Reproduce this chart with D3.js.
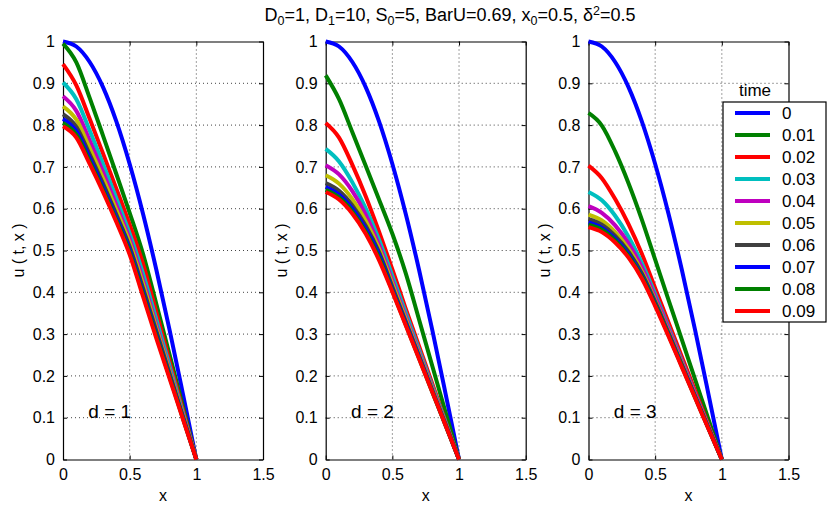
<!DOCTYPE html>
<html>
<head>
<meta charset="utf-8">
<script src="https://cdn.jsdelivr.net/npm/d3@7"></script>
<style>
  body { margin: 0; background: #fff; }
  text { font-family: "Liberation Sans", Arial, Helvetica, sans-serif; }
</style>
</head>
<body>
<div id="chart"></div>
<script>
const svgWidth = 827;
const svgHeight = 507;

// sample positions along x
const xs = [0, 0.1, 0.2, 0.3, 0.4, 0.5, 0.6, 0.7, 0.8, 0.9, 1];
const times = ["0", "0.01", "0.02", "0.03", "0.04", "0.05", "0.06", "0.07", "0.08", "0.09"];
const colors = ["#0000ff", "#008000", "#ff0000", "#00bfbf", "#bf00bf", "#bfbf00", "#404040", "#0000ff", "#008000", "#ff0000"];
const panelNames = ["d = 1", "d = 2", "d = 3"];
const xTicks = [0, 0.5, 1, 1.5];
const yTicks = [0, 0.1, 0.2, 0.3, 0.4, 0.5, 0.6, 0.7, 0.8, 0.9, 1];

// u(t, x), one row per time
const u_d1 = [
    [1, 0.988, 0.951, 0.891, 0.809, 0.707, 0.588, 0.454, 0.309, 0.156, 0],
    [0.995, 0.95, 0.865, 0.775, 0.683, 0.59, 0.492, 0.372, 0.25, 0.126, 0],
    [0.946, 0.895, 0.815, 0.732, 0.648, 0.562, 0.468, 0.352, 0.234, 0.117, 0],
    [0.902, 0.862, 0.787, 0.707, 0.625, 0.54, 0.445, 0.335, 0.223, 0.111, 0],
    [0.869, 0.834, 0.763, 0.688, 0.609, 0.527, 0.43, 0.322, 0.214, 0.107, 0],
    [0.845, 0.813, 0.745, 0.673, 0.597, 0.518, 0.42, 0.314, 0.21, 0.105, 0],
    [0.826, 0.796, 0.73, 0.66, 0.586, 0.509, 0.41, 0.307, 0.205, 0.102, 0],
    [0.815, 0.786, 0.721, 0.652, 0.579, 0.502, 0.402, 0.3, 0.2, 0.1, 0],
    [0.805, 0.777, 0.713, 0.645, 0.573, 0.496, 0.396, 0.296, 0.197, 0.098, 0],
    [0.797, 0.77, 0.707, 0.64, 0.568, 0.49, 0.39, 0.29, 0.193, 0.096, 0]
];
const u_d2 = [
    [1, 0.988, 0.951, 0.891, 0.809, 0.707, 0.588, 0.454, 0.309, 0.156, 0],
    [0.919, 0.862, 0.783, 0.703, 0.622, 0.54, 0.446, 0.335, 0.223, 0.112, 0],
    [0.805, 0.77, 0.705, 0.63, 0.545, 0.455, 0.361, 0.271, 0.181, 0.09, 0],
    [0.743, 0.713, 0.663, 0.601, 0.526, 0.439, 0.351, 0.263, 0.175, 0.088, 0],
    [0.704, 0.682, 0.642, 0.586, 0.513, 0.428, 0.342, 0.256, 0.171, 0.085, 0],
    [0.68, 0.66, 0.623, 0.571, 0.504, 0.42, 0.336, 0.252, 0.168, 0.084, 0],
    [0.661, 0.643, 0.608, 0.559, 0.496, 0.413, 0.33, 0.248, 0.165, 0.083, 0],
    [0.652, 0.634, 0.6, 0.552, 0.49, 0.408, 0.327, 0.245, 0.163, 0.082, 0],
    [0.645, 0.627, 0.593, 0.545, 0.483, 0.404, 0.323, 0.242, 0.161, 0.081, 0],
    [0.64, 0.622, 0.588, 0.54, 0.477, 0.401, 0.321, 0.241, 0.161, 0.081, 0]
];
const u_d3 = [
    [1, 0.988, 0.951, 0.891, 0.809, 0.707, 0.588, 0.454, 0.309, 0.156, 0],
    [0.829, 0.799, 0.737, 0.661, 0.574, 0.478, 0.382, 0.287, 0.191, 0.096, 0],
    [0.703, 0.673, 0.623, 0.563, 0.492, 0.41, 0.328, 0.246, 0.164, 0.082, 0],
    [0.64, 0.62, 0.583, 0.533, 0.47, 0.396, 0.317, 0.237, 0.157, 0.078, 0],
    [0.606, 0.59, 0.56, 0.517, 0.46, 0.389, 0.313, 0.235, 0.157, 0.079, 0],
    [0.586, 0.572, 0.544, 0.504, 0.45, 0.381, 0.306, 0.23, 0.153, 0.077, 0],
    [0.575, 0.562, 0.535, 0.497, 0.445, 0.377, 0.303, 0.227, 0.151, 0.075, 0],
    [0.567, 0.554, 0.528, 0.491, 0.44, 0.373, 0.3, 0.225, 0.15, 0.075, 0],
    [0.562, 0.55, 0.524, 0.487, 0.437, 0.371, 0.298, 0.223, 0.148, 0.074, 0],
    [0.556, 0.544, 0.519, 0.483, 0.433, 0.367, 0.295, 0.221, 0.147, 0.073, 0]
];
const panels = [u_d1, u_d2, u_d3];

const panelLeft = [63, 325.7, 588.5];
const panelW = 200;
const plotTop = 41.5, plotBottom = 459.5;

const svg = d3.select('#chart')
    .append("svg")
    .attr("width", svgWidth)
    .attr("height", svgHeight);

const y = d3.scaleLinear().domain([0, 1]).range([plotBottom, plotTop]);

panels.forEach((rows, p) => {
    const x = d3.scaleLinear().domain([0, 1.5]).range([panelLeft[p], panelLeft[p] + panelW]);
    const g = svg.append("g");

    // dotted grid
    g.selectAll(".gx")
        .data(xTicks.slice(1, -1))
        .join("line")
        .attr("x1", d => x(d)).attr("x2", d => x(d))
        .attr("y1", plotTop).attr("y2", plotBottom)
        .attr("stroke", "#444").attr("stroke-dasharray", "1,3");
    g.selectAll(".gy")
        .data(yTicks.slice(1, -1))
        .join("line")
        .attr("y1", d => y(d)).attr("y2", d => y(d))
        .attr("x1", x(0)).attr("x2", x(1.5))
        .attr("stroke", "#444").attr("stroke-dasharray", "1,3");

    // axes with inward ticks
    g.append("g")
        .attr("transform", `translate(0,${plotBottom})`)
        .call(d3.axisBottom(x).tickValues(xTicks).tickSizeInner(-4).tickSizeOuter(0).tickPadding(9).tickFormat(d3.format("")));
    g.append("g")
        .attr("transform", `translate(${x(0)},0)`)
        .call(d3.axisLeft(y).tickValues(yTicks).tickSizeInner(-4).tickSizeOuter(0).tickPadding(8).tickFormat(d3.format("")));
    g.append("g")
        .attr("transform", `translate(0,${plotTop})`)
        .call(d3.axisTop(x).tickValues(xTicks).tickSizeInner(-4).tickSizeOuter(0).tickFormat(""));
    g.append("g")
        .attr("transform", `translate(${x(1.5)},0)`)
        .call(d3.axisRight(y).tickValues(yTicks).tickSizeInner(-4).tickSizeOuter(0).tickFormat(""));
    g.selectAll(".domain").attr("stroke", "#000").attr("stroke-width", 1.2);
    g.selectAll(".tick text").attr("font-size", 16).attr("fill", "#000")
        .style("font-family", "'Liberation Sans', Arial, sans-serif");

    // curves
    const line = d3.line()
        .x((d, i) => x(xs[i]))
        .y(d => y(d))
        .curve(d3.curveMonotoneX);
    g.selectAll(".curve")
        .data(rows)
        .join("path")
        .attr("d", line)
        .attr("fill", "none")
        .attr("stroke", (d, i) => colors[i])
        .attr("stroke-width", 4)
        .attr("stroke-linejoin", "round");

    // labels
    g.append("text")
        .attr("x", x(0.75))
        .attr("y", 501)
        .attr("text-anchor", "middle")
        .attr("font-size", 16)
        .text("x");
    g.append("text")
        .attr("transform", `translate(${panelLeft[p] - 39},${(plotTop + plotBottom) / 2}) rotate(-90)`)
        .attr("text-anchor", "middle")
        .attr("font-size", 16)
        .text("u ( t, x )");
    g.append("text")
        .attr("x", x(0.19))
        .attr("y", 418)
        .attr("font-size", 19)
        .text(panelNames[p]);
});

// title
const title = svg.append("text")
    .attr("x", 450)
    .attr("y", 21)
    .attr("text-anchor", "middle")
    .attr("font-size", 18);
title.append("tspan").text("D");
title.append("tspan").attr("font-size", 12.5).attr("dy", 4).text("0");
title.append("tspan").attr("dy", -4).text("=1, D");
title.append("tspan").attr("font-size", 12.5).attr("dy", 4).text("1");
title.append("tspan").attr("dy", -4).text("=10, S");
title.append("tspan").attr("font-size", 12.5).attr("dy", 4).text("0");
title.append("tspan").attr("dy", -4).text("=5, BarU=0.69, x");
title.append("tspan").attr("font-size", 12.5).attr("dy", 4).text("0");
title.append("tspan").attr("dy", -4).text("=0.5, δ");
title.append("tspan").attr("font-size", 12.5).attr("dy", -6).text("2");
title.append("tspan").attr("dy", 6).text("=0.5");

// legend
const legend = svg.append("g");
legend.append("rect")
    .attr("x", 723).attr("y", 102)
    .attr("width", 103).attr("height", 220)
    .attr("fill", "#fff").attr("stroke", "#000").attr("stroke-width", 1.2);
legend.append("text")
    .attr("x", 755).attr("y", 96)
    .attr("text-anchor", "middle")
    .attr("font-size", 17)
    .text("time");
const rowsG = legend.selectAll(".item")
    .data(times)
    .join("g")
    .attr("transform", (d, i) => `translate(0,${113 + i * 22})`);
rowsG.append("line")
    .attr("x1", 735).attr("x2", 770)
    .attr("stroke", (d, i) => colors[i])
    .attr("stroke-width", 4);
rowsG.append("text")
    .attr("x", 782).attr("y", 6)
    .attr("font-size", 17)
    .text(d => d);
</script>
</body>
</html>
